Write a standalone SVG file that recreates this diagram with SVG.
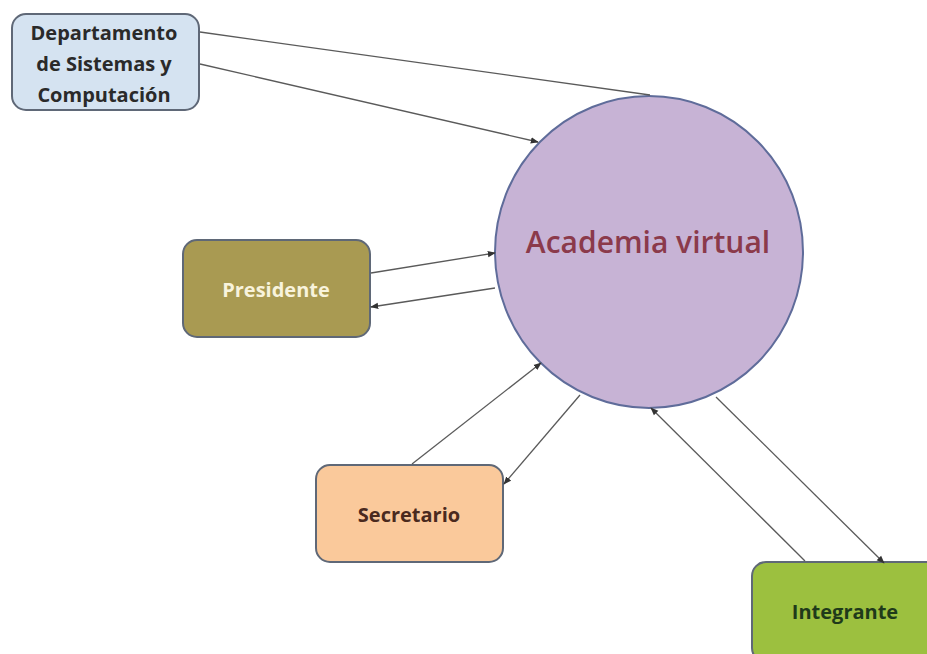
<svg xmlns="http://www.w3.org/2000/svg" width="927" height="654" viewBox="0 0 927 654">
<defs>
<style>
.box{stroke:#5f6877;stroke-width:2}
.lbl{font-family:"Open Sans","Liberation Sans",sans-serif;font-weight:700;font-size:20px;text-anchor:middle}
.conn line{stroke:#5a5a5a;stroke-width:1.3;fill:none}
</style>
<marker id="ah" viewBox="0 0 10 10" refX="9" refY="5" markerWidth="8" markerHeight="8" markerUnits="userSpaceOnUse" orient="auto">
<path d="M0,1 L10,5 L0,9 Z" fill="#333"/>
</marker>
</defs>
<rect width="927" height="654" fill="#ffffff"/>
<g id="academia">
<ellipse cx="649" cy="252" rx="154" ry="156" fill="#c7b3d5" stroke="#5f6c9a" stroke-width="2"/>
<text x="648" y="253" font-family="'Open Sans','Liberation Sans',sans-serif" font-weight="600" font-size="30" fill="#8b3a4b" text-anchor="middle">Academia virtual</text>
</g>
<g id="departamento">
<rect class="box" x="12" y="14" width="187" height="96" rx="14" fill="#d5e3f1" stroke="#7d8ea8"/>
<text class="lbl" fill="#2a2a2a"><tspan x="104" y="40">Departamento</tspan><tspan x="104" y="71">de Sistemas y</tspan><tspan x="104" y="102">Computación</tspan></text>
</g>
<g id="presidente">
<rect class="box" x="183" y="240" width="187" height="97" rx="14" fill="#a99a52"/>
<text class="lbl" x="276" y="297" fill="#f8f3dc">Presidente</text>
</g>
<g id="secretario">
<rect class="box" x="316" y="465" width="187" height="97" rx="14" fill="#fac99b"/>
<text class="lbl" x="409" y="522" fill="#4a2a1e">Secretario</text>
</g>
<g id="integrante">
<rect class="box" x="752" y="562" width="190" height="100" rx="14" fill="#9cc03f"/>
<text class="lbl" x="845" y="619" fill="#1f3a1a">Integrante</text>
</g>
<g class="conn" id="connectors">
<line x1="200" y1="32" x2="650" y2="95"/>
<line x1="200" y1="64" x2="538" y2="142" marker-end="url(#ah)"/>
<line x1="371" y1="273" x2="495" y2="253" marker-end="url(#ah)"/>
<line x1="495" y1="288" x2="371" y2="307" marker-end="url(#ah)"/>
<line x1="412" y1="464" x2="541" y2="363" marker-end="url(#ah)"/>
<line x1="580" y1="395" x2="504" y2="484" marker-end="url(#ah)"/>
<line x1="805" y1="561" x2="651" y2="408" marker-end="url(#ah)"/>
<line x1="716" y1="397" x2="884" y2="563" marker-end="url(#ah)"/>
</g>
</svg>
